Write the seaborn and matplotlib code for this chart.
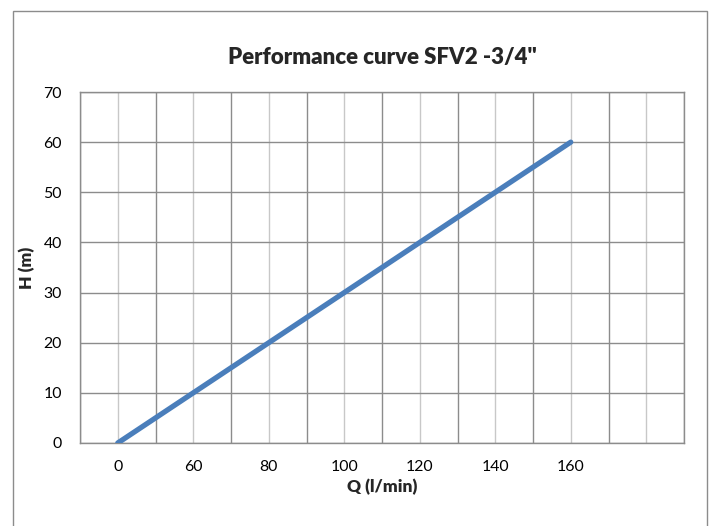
import numpy as np
import pandas as pd
import seaborn as sns
import matplotlib.pyplot as plt
from matplotlib.patches import Rectangle

# data (category axis, last slot empty)
q_labels = ["0", "60", "80", "100", "120", "140", "160", ""]
h_values = [0, 10, 20, 30, 40, 50, 60, np.nan]

df = pd.DataFrame({"pos": np.arange(len(q_labels)), "H": h_values})

sns.set_theme(style="white")
plt.rcParams['font.family'] = ['Lato', 'DejaVu Sans']

fig = plt.figure(figsize=(7.1, 5.26), dpi=100)
ax = fig.add_axes([80 / 710, 1 - 443 / 526, (684 - 80) / 710, (443 - 92) / 526])

# chart area border (runs past the bottom edge of the picture)
fig.patches.append(Rectangle((13 / 710, -0.05), (707 - 13) / 710, 1.05 - 11 / 526,
                             transform=fig.transFigure, fill=False,
                             edgecolor='#8c8c8c', linewidth=1.0))

sns.lineplot(data=df.dropna(), x="pos", y="H", ax=ax, color='#4a7ebb',
             linewidth=3.8, solid_capstyle='round', zorder=3)

ax.set_xlim(-0.5, len(q_labels) - 0.5)
ax.set_ylim(0, 70)
ax.set_xticks(np.arange(len(q_labels)))
ax.set_xticklabels(q_labels)
ax.set_xticks(np.arange(len(q_labels) + 1) - 0.5, minor=True)
ax.set_yticks(np.arange(0, 71, 10))

ax.grid(True, which='major', axis='x', color='#c8c8c8', linewidth=1.0)
ax.grid(True, which='minor', axis='x', color='#8c8c8c', linewidth=1.0)
ax.grid(True, which='major', axis='y', color='#8c8c8c', linewidth=1.0)
ax.tick_params(which='both', length=0, labelsize=11.4, colors='black')
ax.tick_params(axis='x', pad=12)
ax.tick_params(axis='y', pad=13)

for s in ax.spines.values():
    s.set_color('#8c8c8c')
    s.set_linewidth(1.0)

ax.set_xlabel("Q (l/min)", fontsize=12.5, fontweight='heavy', labelpad=4)
ax.set_ylabel("H (m)", fontsize=12.5, fontweight='heavy', labelpad=6)
ax.set_title('Performance curve SFV2 -3/4"', fontsize=16, fontweight='heavy', pad=20)

plt.savefig('out.png', dpi=100)
